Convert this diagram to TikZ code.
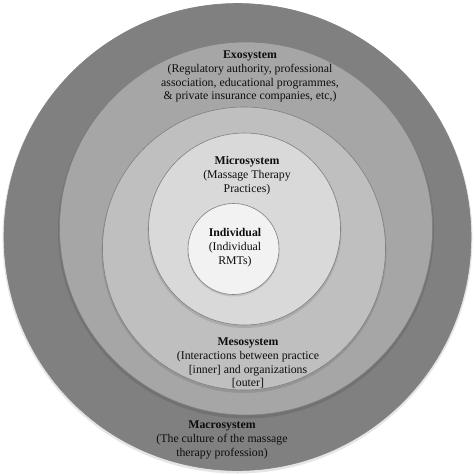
\documentclass[tikz,border=0pt]{standalone}
\usepackage{fontspec}
\setmainfont{Liberation Serif}
\begin{document}
\begin{tikzpicture}[x=1pt,y=-1pt,
  ring/.style={circle, inner sep=0pt, draw=black!50, line width=0.6pt},
  shade/.style={circle, inner sep=0pt, fill=black, fill opacity=0.10, draw=none},
  lbl/.style={align=center, font=\fontsize{11.8}{13.9}\selectfont, text=black!95, inner sep=0pt}]
\useasboundingbox (0,0) rectangle (474,474);
\fill[white] (0,0) rectangle (474,474);
% rings
\node[shade, minimum size=470] (macroshade) at (237.5,238.5) {};
\node[ring, fill=black!50, minimum size=467] (macro) at (237.5,237) {};
\node[shade, minimum size=376] (exoshade) at (246,230.5) {};
\node[ring, fill=black!35, minimum size=373] (exo) at (246,228.5) {};
\node[shade, minimum size=285] (mesoshade) at (244,250.5) {};
\node[ring, fill=black!25, minimum size=283] (meso) at (244,248.5) {};
\node[shade, minimum size=194] (microshade) at (244.5,231) {};
\node[ring, fill=black!15, minimum size=192] (micro) at (244.5,229) {};
\node[shade, minimum size=92] (indshade) at (233.5,250.5) {};
\node[ring, fill=black!5, minimum size=91] (ind) at (233.5,249) {};
% labels
\node[lbl] (exotxt) at (250,76.5) {\textbf{Exosystem}\\(Regulatory authority, professional\\association, educational programmes,\\\& private insurance companies, etc,)};
\node[lbl] (microtxt) at (247,176) {\textbf{Microsystem}\\(Massage Therapy\\Practices)};
\node[lbl] (indtxt) at (235,248) {\textbf{Individual}\\(Individual\\RMTs)};
\node[lbl] (mesotxt) at (248,363) {\textbf{Mesosystem}\\(Interactions between practice\\{[inner]} and organizations\\{[outer]}};
\node[lbl] (macrotxt) at (222,440) {\textbf{Macrosystem}\\(The culture of the massage\\therapy profession)};
\end{tikzpicture}
\end{document}
